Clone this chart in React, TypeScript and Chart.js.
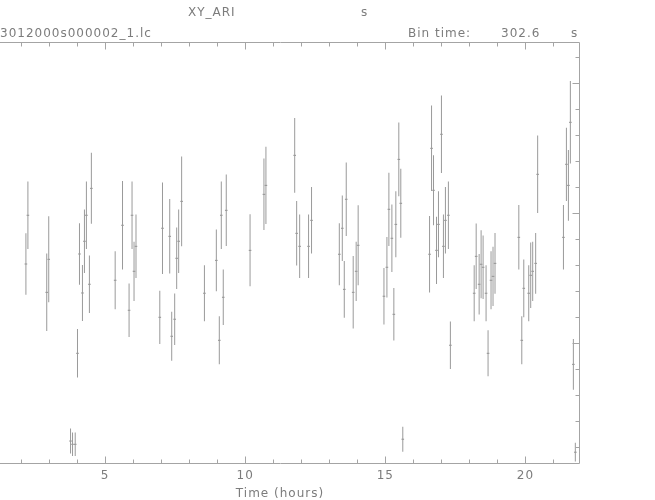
import React, { useEffect, useRef } from 'react';
import { Chart, registerables } from 'chart.js';

Chart.register(...registerables);

// ---- data (time in hours, count rate, 1-sigma error) ----
const timeHours = [
  2.180, 2.251, 2.923, 2.994, 3.772, 3.843, 3.939, 4.020, 4.091, 4.197,
  4.268, 4.338, 4.445, 4.515, 5.364, 5.626, 5.860, 5.966, 6.037, 6.107,
  6.956, 7.052, 7.310, 7.381, 7.487, 7.558, 7.629, 7.735, 8.548, 8.973,
  9.079, 9.150, 9.220, 9.327, 10.176, 10.671, 10.742, 11.768, 11.838, 11.945,
  12.263, 12.369, 13.360, 13.466, 13.537, 13.607, 13.855, 13.961, 14.032, 14.952,
  15.058, 15.128, 15.235, 15.305, 15.376, 15.482, 15.553, 15.624, 16.579, 16.650,
  16.720, 16.827, 16.897, 17.003, 17.074, 17.145, 17.251, 17.322, 18.171, 18.242,
  18.348, 18.418, 18.489, 18.595, 18.666, 18.772, 18.843, 18.914, 19.763, 19.869,
  19.940, 20.117, 20.187, 20.258, 20.364, 20.435, 21.355, 21.461, 21.532, 21.602,
  21.709, 21.779,
];

const rate = [
  0.1610, 0.1985, 0.1392, 0.1646, 0.0248, 0.0223, 0.0223, 0.0923, 0.1687, 0.1387,
  0.1785, 0.1985, 0.1454, 0.2192, 0.1485, 0.1908, 0.1254, 0.1985, 0.1554, 0.1746,
  0.1200, 0.1885, 0.1823, 0.1054, 0.1185, 0.1654, 0.1785, 0.2092, 0.1385, 0.1638,
  0.1023, 0.1985, 0.1354, 0.2023, 0.1715, 0.2146, 0.2215, 0.2446, 0.1846, 0.1746,
  0.1746, 0.1946, 0.1685, 0.1885, 0.1415, 0.2108, 0.1392, 0.1554, 0.1754, 0.1362,
  0.1585, 0.2031, 0.1808, 0.1223, 0.1915, 0.2415, 0.2077, 0.0262, 0.1685, 0.2500,
  0.2177, 0.1715, 0.1915, 0.2608, 0.1746, 0.1946, 0.1985, 0.0985, 0.1385, 0.1669,
  0.1454, 0.1608, 0.1585, 0.1385, 0.0923, 0.1485, 0.1515, 0.1615, 0.1815, 0.1023,
  0.1423, 0.1385, 0.1523, 0.1554, 0.1615, 0.2300, 0.1815, 0.2377, 0.2215, 0.2700,
  0.0838, 0.0162,
];

const rateErr = [
  0.0237, 0.0259, 0.0298, 0.0331, 0.0096, 0.0090, 0.0090, 0.0186, 0.0237, 0.0215,
  0.0244, 0.0259, 0.0221, 0.0273, 0.0223, 0.0341, 0.0206, 0.0259, 0.0228, 0.0244,
  0.0205, 0.0352, 0.0287, 0.0188, 0.0198, 0.0237, 0.0245, 0.0346, 0.0215, 0.0237,
  0.0185, 0.0259, 0.0213, 0.0275, 0.0277, 0.0275, 0.0298, 0.0287, 0.0248, 0.0244,
  0.0244, 0.0256, 0.0238, 0.0252, 0.0219, 0.0282, 0.0279, 0.0228, 0.0308, 0.0218,
  0.0233, 0.0282, 0.0260, 0.0202, 0.0254, 0.0283, 0.0265, 0.0096, 0.0294, 0.0329,
  0.0269, 0.0259, 0.0254, 0.0298, 0.0244, 0.0256, 0.0259, 0.0182, 0.0215, 0.0252,
  0.0232, 0.0262, 0.0245, 0.0215, 0.0177, 0.0223, 0.0228, 0.0233, 0.0248, 0.0185,
  0.0222, 0.0215, 0.0252, 0.0228, 0.0233, 0.0298, 0.0248, 0.0282, 0.0272, 0.0317,
  0.0195, 0.0072,
];

// ---- axes / ticks ----
const X_MIN = 0.578;
const X_MAX = 21.91;
const Y_MIN = 0.0079;
const Y_MAX = 0.3318;
const xTickLabels = [5, 10, 15, 20];
const xMinorTicks = [1, 2, 3, 4, 5, 6, 7, 8, 9, 10, 11, 12, 13, 14, 15, 16, 17, 18, 19, 20, 21];
const yMajorTicks = [0.1, 0.2, 0.3];
const yMinorTicks = [0.02, 0.04, 0.06, 0.08, 0.1, 0.12, 0.14, 0.16, 0.18, 0.2, 0.22, 0.24, 0.26, 0.28, 0.3, 0.32];

const LINE = '#a4a4a4';
const BAR = '#9a9a9a';
const MARK = '#8c8c8c';
const TEXT = '#7c7c7c';
const FONT = "'DejaVu Sans', sans-serif";

const SHIFT = 24; // plot's left edge sits off the visible page

const framePlugin = {
  id: 'frame',
  afterDatasetsDraw(chart: any) {
    const { ctx, chartArea, scales } = chart;
    const xs = scales.x;
    const ys = scales.y;
    const L = Math.round(chartArea.left) + 0.5;
    const R = Math.round(chartArea.right) + 0.5;
    const T = Math.round(chartArea.top) + 0.5;
    const B = Math.round(chartArea.bottom) + 0.5;
    ctx.save();
    ctx.strokeStyle = LINE;
    ctx.lineWidth = 1;
    ctx.beginPath();
    ctx.rect(L, T, R - L, B - T);
    for (const v of xMinorTicks) {
      const px = Math.round(xs.getPixelForValue(v)) + 0.5;
      const len = xTickLabels.includes(v) ? 7 : 4;
      ctx.moveTo(px, B);
      ctx.lineTo(px, B - len);
      ctx.moveTo(px, T);
      ctx.lineTo(px, T + len);
    }
    for (const v of yMinorTicks) {
      const py = Math.round(ys.getPixelForValue(v)) + 0.5;
      const len = yMajorTicks.some((m) => Math.abs(m - v) < 1e-9) ? 7 : 4;
      ctx.moveTo(R, py);
      ctx.lineTo(R - len, py);
      ctx.moveTo(L, py);
      ctx.lineTo(L + len, py);
    }
    ctx.stroke();
    ctx.restore();
  },
};

const spacingPlugin = {
  id: 'spacing',
  beforeDraw(chart: any) {
    chart.ctx.letterSpacing = '1px';
  },
  afterDraw(chart: any) {
    chart.ctx.letterSpacing = '0px';
  },
};

export default function App() {
  const ref = useRef<HTMLCanvasElement | null>(null);

  useEffect(() => {
    if (!ref.current) return;
    const errData = timeHours.map((t, i) => ({ x: t, y: [rate[i] - rateErr[i], rate[i] + rateErr[i]] }));
    const ptData = timeHours.map((t, i) => ({ x: t, y: rate[i] }));
    const chart = new Chart(ref.current, {
      type: 'bar',
      data: {
        datasets: [
          {
            type: 'bar',
            data: errData as any,
            backgroundColor: BAR,
            borderWidth: 0,
            barThickness: 1,
            inflateAmount: 0,
            grouped: false,
          } as any,
          {
            type: 'scatter',
            data: ptData,
            pointStyle: 'line',
            radius: 1.3,
            borderWidth: 1,
            borderColor: MARK,
            backgroundColor: MARK,
            showLine: false,
          } as any,
        ],
      },
      options: {
        responsive: false,
        animation: false,
        events: [],
        layout: { padding: { top: 42, right: 76, left: 0, bottom: 0 } },
        plugins: { legend: { display: false }, tooltip: { enabled: false }, title: { display: false } },
        scales: {
          x: {
            type: 'linear',
            position: 'bottom',
            min: X_MIN,
            max: X_MAX,
            offset: false,
            afterBuildTicks: (s: any) => {
              s.ticks = xTickLabels.map((v) => ({ value: v }));
            },
            afterFit: (s: any) => {
              s.height = 37;
            },
            grid: { display: false, drawTicks: false },
            border: { display: false },
            ticks: {
              color: TEXT,
              font: { family: FONT, size: 12 },
              padding: 6,
              maxRotation: 0,
              autoSkip: false,
              callback: (v: any) => String(v),
            },
            title: {
              display: true,
              text: 'Time (hours)',
              color: TEXT,
              font: { family: FONT, size: 12, lineHeight: 1 },
              padding: 0,
            },
          },
          y: {
            type: 'linear',
            min: Y_MIN,
            max: Y_MAX,
            display: false,
          },
        },
      } as any,
      plugins: [framePlugin, spacingPlugin],
    });
    return () => chart.destroy();
  }, []);

  const txt: React.CSSProperties = {
    position: 'absolute',
    fontFamily: FONT,
    fontSize: 12,
    lineHeight: '14px',
    letterSpacing: '1px',
    color: TEXT,
    whiteSpace: 'pre',
  };

  return (
    <div style={{ position: 'fixed', left: 0, top: 0, width: 655, height: 500, overflow: 'hidden', background: '#fff' }}>
      <canvas ref={ref} width={655 + SHIFT} height={500} style={{ position: 'absolute', left: -SHIFT, top: 0, width: 655 + SHIFT, height: 500 }} />
      <span style={{ ...txt, left: 188, top: 5 }}>XY_ARI</span>
      <span style={{ ...txt, left: 361, top: 5 }}>s</span>
      <span style={{ ...txt, left: 0, top: 26 }}>3012000s000002_1.lc</span>
      <span style={{ ...txt, left: 408, top: 26 }}>Bin time:</span>
      <span style={{ ...txt, left: 501, top: 26 }}>302.6</span>
      <span style={{ ...txt, left: 571, top: 26 }}>s</span>
    </div>
  );
}
